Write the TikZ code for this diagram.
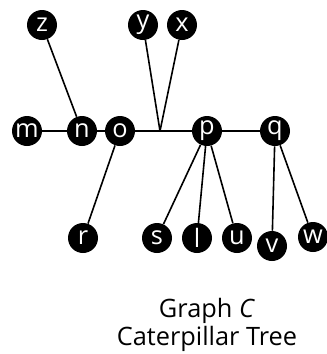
\documentclass[tikz,border=0pt]{standalone}
\usepackage{fontspec}
\setmainfont{Open Sans}
\usepackage{tikz}
\newlength{\pxu}
\setlength{\pxu}{0.75pt}
\tikzset{vtx/.style={circle, fill=black, text=white, inner sep=0pt, minimum size=30\pxu, font=\fontsize{19}{19}\selectfont}}

\begin{document}
\begin{tikzpicture}[x=0.75pt, y=-0.75pt]
    \useasboundingbox (0,0) rectangle (327,354);
    % vertices
    \node[vtx] (z) at (42,25) {z};
    \node[vtx] (y) at (143,25) {y};
    \node[vtx] (x) at (182,25) {x};
    \node[vtx] (m) at (27,131) {m};
    \node[vtx] (n) at (82,131) {n};
    \node[vtx] (o) at (120,131) {o};
    \coordinate (j) at (160,131);
    \node[vtx] (p) at (207,131) {p};
    \node[vtx] (q) at (275,131) {q};
    \node[vtx] (r) at (83,238) {r};
    \node[vtx] (s) at (157,238) {s};
    \node[vtx] (l) at (197,238) {l};
    \node[vtx] (u) at (237,238) {u};
    \node[vtx] (v) at (272,246) {v};
    \node[vtx] (w) at (313,237) {w};
    % edges
    \begin{scope}[line width=1.2pt]
    \draw (m) -- (n) -- (o) -- (j) -- (p) -- (q);
    \draw (z) -- (n);
    \draw (o) -- (r);
    \draw (j) -- (y);
    \draw (j) -- (x);
    \draw (p) -- (s);
    \draw (p) -- (l);
    \draw (p) -- (u);
    \draw (q) -- (v);
    \draw (q) -- (w);
    \end{scope}
    \node[font=\fontsize{19}{21}\selectfont, align=center] (cap) at (207,325) {Graph \textit{C}\\Caterpillar Tree};
\end{tikzpicture}
\end{document}
